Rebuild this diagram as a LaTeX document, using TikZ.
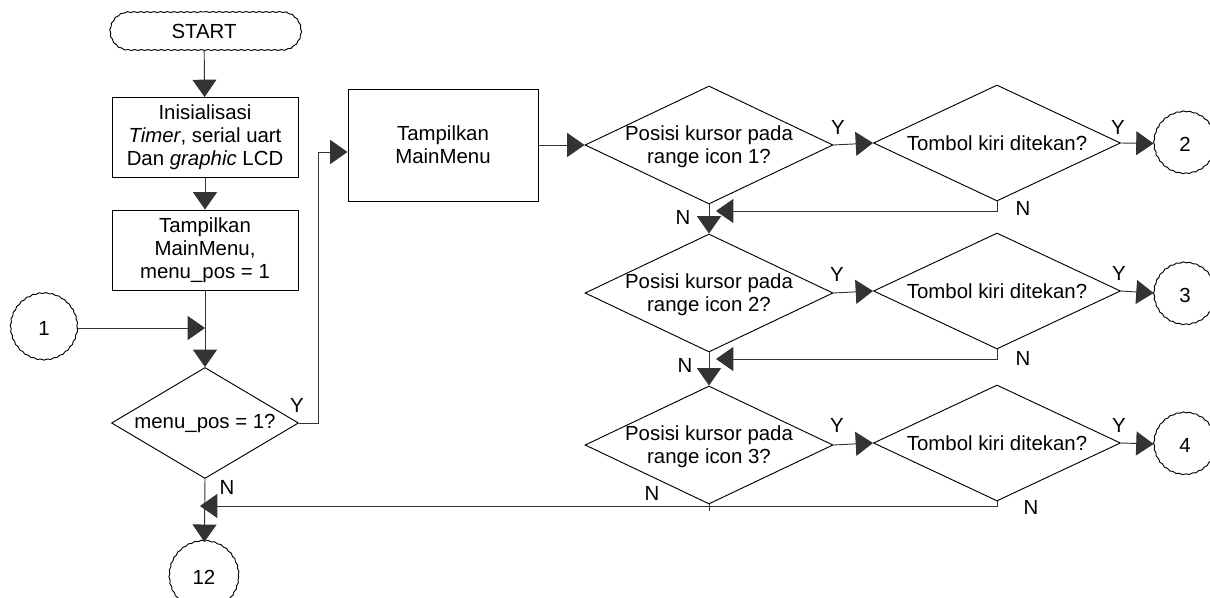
\documentclass[tikz,border=0pt]{standalone}
\usepackage{fontspec}
\setmainfont{Liberation Sans}
\usetikzlibrary{shapes.geometric,shapes.misc,arrows.meta,decorations.pathmorphing,calc}
\begin{document}
\begin{tikzpicture}[x=0.75pt,y=-0.75pt,
  font=\fontsize{15.3}{17.25}\selectfont,
  line width=0.7pt,
  wavy/.style={decorate,decoration={snake,amplitude=0.35pt,segment length=5pt}},
  term/.style={draw,rounded rectangle,minimum width=143.25pt,minimum height=28.5pt,inner sep=0pt,wavy},
  proc/.style={draw,rectangle,minimum width=139.5pt,minimum height=60pt,align=center,inner sep=0pt},
  dia/.style={draw,diamond,inner sep=0pt},
  ask/.style={align=center,inner sep=0pt},
  conn/.style={draw,circle,inner sep=0pt,wavy},
  lbl/.style={inner sep=0pt},
  wire/.style={draw=black!80},
  arr/.style={wire,-{Triangle[length=13pt,width=18pt]}}]
\useasboundingbox (0,0) rectangle (1210,598);
\clip (0,0) rectangle (1210,598);

% left column
\node[term] (start) at (204,31) {START};
\node[proc] (init) at (205,137.5) {Inisialisasi\\\textit{Timer}, serial uart\\Dan \textit{graphic} LCD};
\node[proc] (show) at (205,250) {Tampilkan\\MainMenu,\\menu\_pos = 1};
\node[dia,minimum width=140.25pt,minimum height=83.25pt] (d0) at (205,423) {};
\node[ask] (d0t) at (d0) {menu\_pos = 1?};
\node[conn,minimum size=50pt] (c1) at (44,328) {1};
\node[conn,minimum size=52pt] (c12) at (204,577) {12};

% main menu box
\node[proc,minimum width=142.5pt,minimum height=84pt] (menu) at (443,145) {Tampilkan\\MainMenu};

% decision rows
\foreach \r/\y in {1/145,2/293,3/445}{
  \node[dia,minimum width=186pt,minimum height=88.5pt] (dA\r) at (709,\y) {};
  \node[ask] (dA\r t) at ([yshift=-1.5pt]dA\r) {Posisi kursor pada\\range icon \r?};
  \node[dia,minimum width=185.25pt,minimum height=87pt] (dB\r) at (997,\y-2) {};
  \node[ask] (dB\r t) at (dB\r) {Tombol kiri ditekan?};
}
\node[conn,minimum size=46.5pt] (c2) at (1185,144) {2};
\node[conn,minimum size=46.5pt] (c3) at (1185,295) {3};
\node[conn,minimum size=46.5pt] (c4) at (1185,445) {4};

% bends and merge points
\coordinate (up) at (318,423);
\coordinate (m1) at (716,211);
\coordinate (m2) at (716,359);
\coordinate (m3) at (200,506);

% connectors
\draw[arr] (start) -- (init);
\draw[arr] (init) -- (show);
\draw[arr] (show) -- (d0);
\draw[arr] (c1) -- (c1 -| show.south);
\draw[arr] (d0.east) -- (up) |- ([yshift=-5.25pt]menu.west);
\draw[arr] (menu.east |- dA1) -- (dA1.west);
\draw[arr] (d0.south) -- (c12);

\foreach \r in {1,2,3}{
  \draw[arr] (dA\r.east) -- (dB\r.west);
}
\draw[arr] (dB1.east) -- (c2);
\draw[arr] (dB2.east) -- (c3);
\draw[arr] (dB3.east) -- (c4);

\draw[arr] (dA1.south) -- (dA2.north);
\draw[arr] (dA2.south) -- (dA3.north);
\draw[arr] (dB1.south) |- (m1);
\draw[arr] (dB2.south) |- (m2);
\draw[wire] (dA3.south) -- ++(0,7);
\draw[arr] (dB3.south) |- (m3);

% branch labels
\node[lbl] (y0) at (297,405) {Y};
\node[lbl] (n0) at (227,487) {N};
\node[lbl] (yA1) at (838,127) {Y};
\node[lbl] (yB1) at (1118,127) {Y};
\node[lbl] (nA1) at (683,217) {N};
\node[lbl] (nB1) at (1023,208) {N};
\node[lbl] (yA2) at (837,274) {Y};
\node[lbl] (yB2) at (1119,273) {Y};
\node[lbl] (nA2) at (685,365) {N};
\node[lbl] (nB2) at (1023,358) {N};
\node[lbl] (yA3) at (837,425) {Y};
\node[lbl] (yB3) at (1119,425) {Y};
\node[lbl] (nA3) at (652,493) {N};
\node[lbl] (nB3) at (1031,507) {N};
\end{tikzpicture}
\end{document}
